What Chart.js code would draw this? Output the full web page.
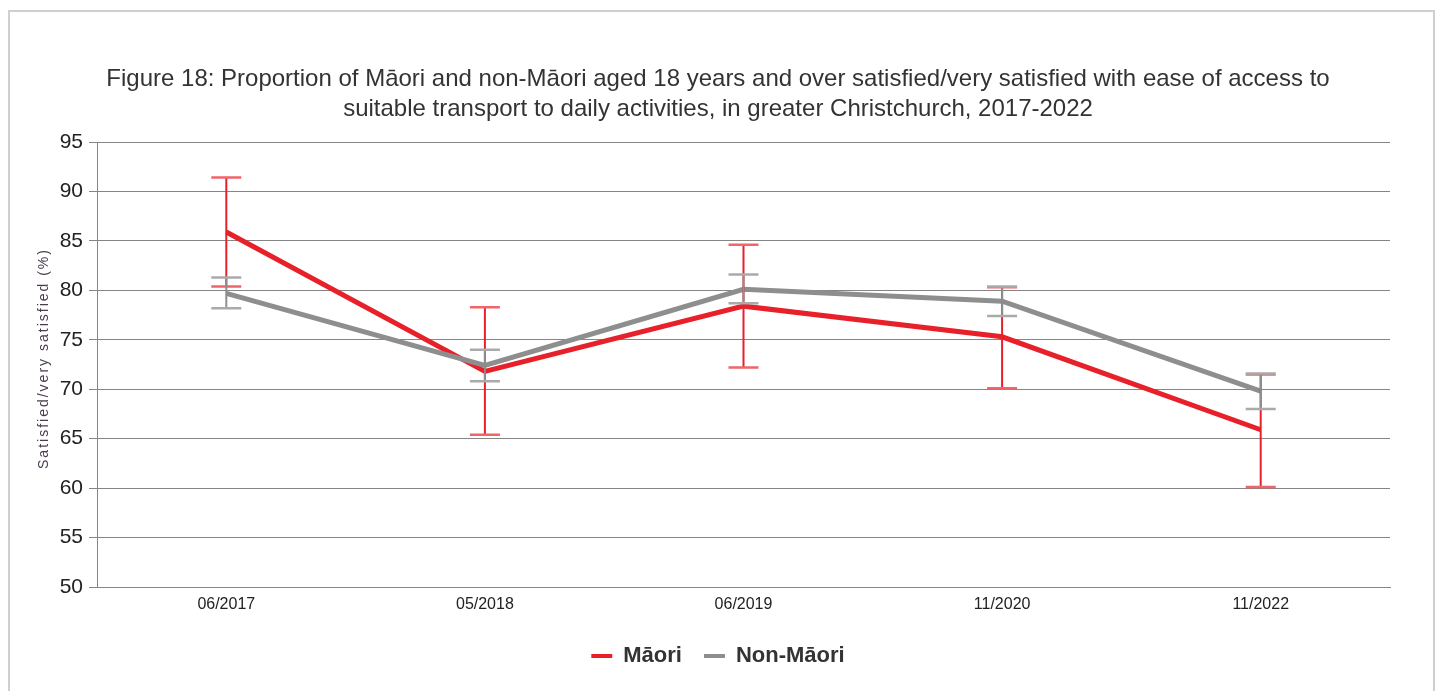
<!DOCTYPE html>
<html>
<head>
<meta charset="utf-8">
<script src="https://cdn.jsdelivr.net/npm/chart.js@4/dist/chart.umd.min.js"></script>
<style>
    body { margin: 0; background: #fff; }
    #frame { position: absolute; left: 8px; top: 10px; width: 1423px; height: 700px; border: 2px solid #cfcfcf; box-sizing: content-box; }
    #chartBox { position: absolute; left: 0; top: 0; width: 1439px; height: 691px; }
</style>
</head>
<body>
<div id="frame"></div>
<div id="chartBox"><canvas id="transportChart" width="1439" height="691"></canvas></div>
<script>
const categories = ["06/2017", "05/2018", "06/2019", "11/2020", "11/2022"];

const maoriValues = [85.9, 71.8, 78.4, 75.3, 65.9];
const maoriLow = [80.4, 65.4, 72.2, 70.1, 60.1];
const maoriHigh = [91.4, 78.3, 84.6, 80.3, 71.5];

const nonMaoriValues = [79.7, 72.4, 80.1, 78.9, 69.8];
const nonMaoriLow = [78.2, 70.8, 78.7, 77.4, 68.0];
const nonMaoriHigh = [81.3, 74.0, 81.6, 80.4, 71.6];

const yTicks = [50, 55, 60, 65, 70, 75, 80, 85, 90, 95];
const yTitle = "Satisfied/very satisfied (%)";

const red = "#e8202a";
const grey = "#8e8e8e";
const fontFamily = "'Liberation Sans', Arial, sans-serif";

// error bars on top of the lines, plus the spaced-out y axis title
const errorBars = {
    id: "errorBars",
    afterDatasetsDraw(chart) {
        const ctx = chart.ctx;
        const yScale = chart.scales.y;
        [0, 1].forEach(i => {
            const ds = chart.data.datasets[i];
            const meta = chart.getDatasetMeta(i);
            meta.data.forEach((pt, j) => {
                const top = yScale.getPixelForValue(ds.errHigh[j]);
                const bottom = yScale.getPixelForValue(ds.errLow[j]);
                ctx.save();
                ctx.strokeStyle = ds.borderColor;
                ctx.lineWidth = 2;
                ctx.beginPath();
                ctx.moveTo(pt.x, top);
                ctx.lineTo(pt.x, bottom);
                ctx.stroke();
                ctx.strokeStyle = ds.capColor;
                ctx.lineWidth = 2.5;
                ctx.beginPath();
                ctx.moveTo(pt.x - 15, top);
                ctx.lineTo(pt.x + 15, top);
                ctx.moveTo(pt.x - 15, bottom);
                ctx.lineTo(pt.x + 15, bottom);
                ctx.stroke();
                ctx.restore();
            });
        });
    },
    afterDraw(chart) {
        const ctx = chart.ctx;
        const area = chart.chartArea;
        ctx.save();
        ctx.translate(44, (area.top + area.bottom) / 2 - 6);
        ctx.rotate(-Math.PI / 2);
        ctx.letterSpacing = "2px";
        ctx.font = "14px " + fontFamily;
        ctx.fillStyle = "#4a3d4e";
        ctx.textAlign = "center";
        ctx.textBaseline = "middle";
        ctx.fillText(yTitle, 0, 0);
        ctx.restore();
    }
};

new Chart(document.getElementById("transportChart"), {
    type: "line",
    data: {
        labels: categories,
        datasets: [
            {
                label: "Māori",
                data: maoriValues,
                errLow: maoriLow,
                errHigh: maoriHigh,
                borderColor: red,
                backgroundColor: red,
                capColor: "#f0646a",
                borderWidth: 5,
                pointRadius: 0,
                tension: 0,
                order: 1
            },
            {
                label: "Non-Māori",
                data: nonMaoriValues,
                errLow: nonMaoriLow,
                errHigh: nonMaoriHigh,
                borderColor: grey,
                backgroundColor: grey,
                capColor: "#aaaaaa",
                borderWidth: 5,
                pointRadius: 0,
                tension: 0,
                order: 0
            }
        ]
    },
    options: {
        responsive: false,
        animation: false,
        layout: { padding: { top: 64, right: 49, bottom: 14, left: 46 } },
        scales: {
            x: {
                offset: true,
                grid: { display: false, drawTicks: false },
                border: { display: true, color: "#888", width: 1 },
                ticks: { color: "#222", font: { family: fontFamily, size: 16 }, padding: 8, maxRotation: 0 },
                afterFit: s => { s.height = 36; }
            },
            y: {
                min: 50,
                max: 95,
                afterBuildTicks: s => { s.ticks = yTicks.map(v => ({ value: v })); },
                grid: { color: "#858585", lineWidth: 1, tickLength: 8 },
                border: { display: true, color: "#858585", width: 1 },
                ticks: { color: "#222", font: { family: fontFamily, size: 21 }, padding: 6 },
                afterFit: s => { s.width = 51; }
            }
        },
        plugins: {
            title: {
                display: true,
                text: [
                    "Figure 18: Proportion of Māori and non-Māori aged 18 years and over satisfied/very satisfied with ease of access to",
                    "suitable transport to daily activities, in greater Christchurch, 2017-2022"
                ],
                color: "#333",
                font: { family: fontFamily, size: 24, weight: "normal", lineHeight: 1.25 },
                padding: { top: 0, bottom: 18 }
            },
            legend: {
                position: "bottom",
                labels: {
                    color: "#333",
                    font: { family: fontFamily, size: 22, weight: "bold" },
                    boxWidth: 21,
                    boxHeight: 4,
                    padding: 22,
                    generateLabels: chart => chart.data.datasets.map((ds, i) => ({
                        text: ds.label,
                        fillStyle: ds.borderColor,
                        strokeStyle: ds.borderColor,
                        lineWidth: 0,
                        fontColor: "#333",
                        datasetIndex: i
                    }))
                }
            },
            tooltip: { enabled: false }
        }
    },
    plugins: [errorBars]
});
</script>
</body>
</html>
